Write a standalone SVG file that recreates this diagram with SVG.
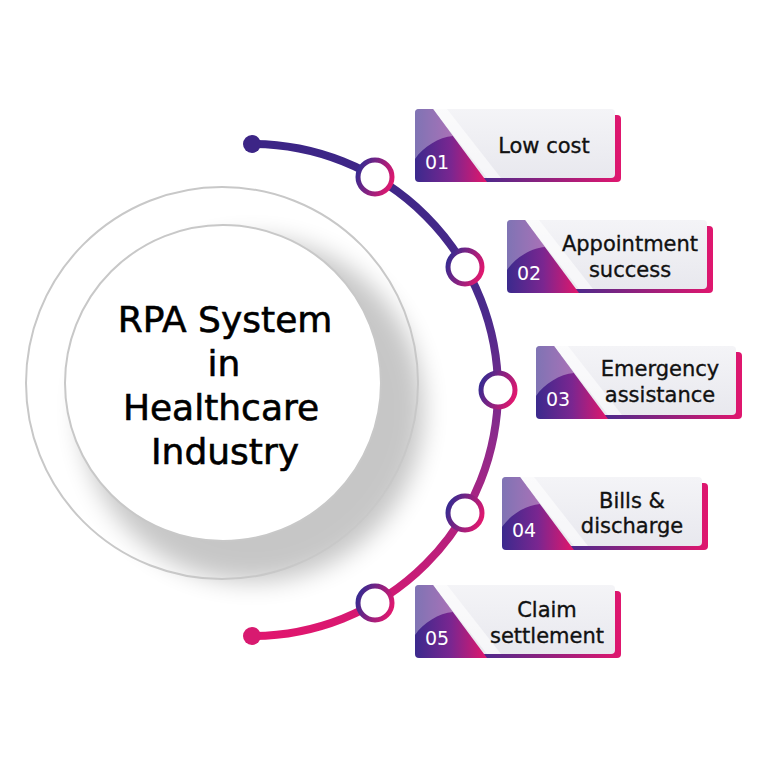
<svg xmlns="http://www.w3.org/2000/svg" width="768" height="768" viewBox="0 0 768 768">
<style>
.lbl{font-family:"DejaVu Sans","Liberation Sans",sans-serif;font-size:21px;fill:#111;stroke:#111;stroke-width:0.35;text-anchor:middle}
.num{font-family:"DejaVu Sans","Liberation Sans",sans-serif;font-size:19px;fill:#fff}
.title{font-family:"DejaVu Sans","Liberation Sans",sans-serif;font-size:36px;fill:#000;stroke:#000;stroke-width:0.6;text-anchor:middle}
.ring{fill:#fff;stroke:url(#gRing);stroke-width:5}
</style>
<defs>
<linearGradient id="gArc" gradientUnits="userSpaceOnUse" x1="0" y1="144" x2="0" y2="636">
<stop offset="0" stop-color="#3c2586"/><stop offset="0.35" stop-color="#4b2a8c"/><stop offset="0.6" stop-color="#8e2a8c"/><stop offset="1" stop-color="#e0166e"/>
</linearGradient>
<linearGradient id="gRing" x1="0" y1="0.3" x2="1" y2="0.7">
<stop offset="0" stop-color="#3a2a90"/><stop offset="1" stop-color="#e0186f"/>
</linearGradient>
<linearGradient id="gTri" x1="0" y1="0" x2="1" y2="0">
<stop offset="0" stop-color="#3b2a8d"/><stop offset="0.5" stop-color="#7a2690"/><stop offset="1" stop-color="#e3166a"/>
</linearGradient>
<linearGradient id="gBack" x1="0" y1="0" x2="1" y2="0">
<stop offset="0.3" stop-color="#4a2a8c"/><stop offset="1" stop-color="#e0166e"/>
</linearGradient>
<linearGradient id="gGray" x1="0" y1="0" x2="0" y2="1">
<stop offset="0" stop-color="#f4f4f7"/><stop offset="1" stop-color="#e8e8ee"/>
</linearGradient>
<filter id="blur" x="-30%" y="-30%" width="160%" height="160%"><feGaussianBlur stdDeviation="12"/></filter>
<g id="boxShape">
<rect x="5" y="6" width="201" height="67" rx="4" fill="url(#gBack)"/>
<rect x="0" y="0" width="200" height="69" rx="4" fill="url(#gGray)"/>
<polygon points="18,0 32,0 86,69 72,69" fill="#fff" opacity="0.6"/>
<path d="M4,0 L18,0 L72,73 L4,73 Q0,73 0,69 L0,4 Q0,0 4,0 Z" fill="url(#gTri)"/>
<path d="M4,0 L18,0 L38,27 C24,28 8,38 0,50 L0,4 Q0,0 4,0 Z" fill="#fff" opacity="0.35"/>
</g>
</defs>
<rect width="768" height="768" fill="#fff"/>

<g id="center">
<circle cx="222" cy="383" r="196" fill="#fff"/>
<circle cx="252" cy="410" r="172" fill="#000" opacity="0.22" filter="url(#blur)"/>
<circle cx="222" cy="383" r="196" fill="none" stroke="#c8c8c8" stroke-width="2"/>
<circle cx="223" cy="383" r="158" fill="#fff" stroke="#c8c8c8" stroke-width="2"/>
<text class="title" x="225" y="332">RPA System</text>
<text class="title" x="224" y="376">in</text>
<text class="title" x="221" y="420">Healthcare</text>
<text class="title" x="225" y="464">Industry</text>
</g>

<g id="connectors">
<path d="M252,144 A246,246 0 0 1 252,636" fill="none" stroke="url(#gArc)" stroke-width="8"/>
<circle cx="252" cy="144" r="9" fill="#3c2586"/>
<circle cx="252" cy="636" r="9" fill="#d81a70"/>
<circle class="ring" cx="375" cy="177" r="17"/>
<circle class="ring" cx="465" cy="267" r="17"/>
<circle class="ring" cx="498" cy="390" r="17"/>
<circle class="ring" cx="465" cy="513" r="17"/>
<circle class="ring" cx="375" cy="603" r="17"/>
</g>

<g id="box1" transform="translate(415,109)">
<use href="#boxShape"/>
<text class="num" x="10" y="60">01</text>
<text class="lbl" x="129" y="44">Low cost</text>
</g>
<g id="box2" transform="translate(507,220)">
<use href="#boxShape"/>
<text class="num" x="10" y="60">02</text>
<text class="lbl" x="123" y="31">Appointment</text>
<text class="lbl" x="123" y="57">success</text>
</g>
<g id="box3" transform="translate(536,346)">
<use href="#boxShape"/>
<text class="num" x="10" y="60">03</text>
<text class="lbl" x="124" y="30">Emergency</text>
<text class="lbl" x="124" y="56">assistance</text>
</g>
<g id="box4" transform="translate(502,477)">
<use href="#boxShape"/>
<text class="num" x="10" y="60">04</text>
<text class="lbl" x="130" y="31">Bills &amp;</text>
<text class="lbl" x="130" y="56">discharge</text>
</g>
<g id="box5" transform="translate(415,585)">
<use href="#boxShape"/>
<text class="num" x="10" y="60">05</text>
<text class="lbl" x="132" y="32">Claim</text>
<text class="lbl" x="132" y="58">settlement</text>
</g>
</svg>
